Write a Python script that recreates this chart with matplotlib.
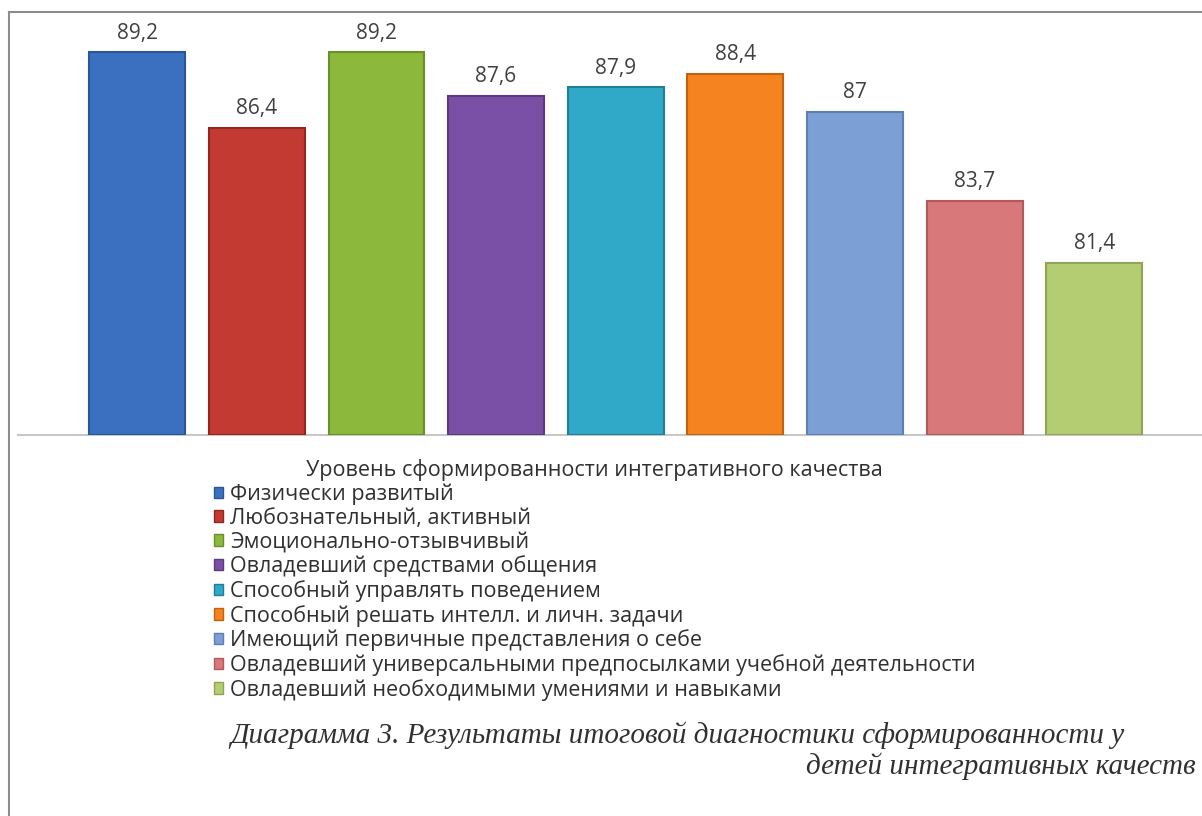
import matplotlib
matplotlib.use("Agg")
import matplotlib.pyplot as plt
from matplotlib.patches import Patch

categories = [
    "Физически развитый",
    "Любознательный, активный",
    "Эмоционально-отзывчивый",
    "Овладевший средствами общения",
    "Способный управлять поведением",
    "Способный решать интелл. и личн. задачи",
    "Имеющий первичные представления о себе",
    "Овладевший универсальными предпосылками учебной деятельности",
    "Овладевший необходимыми умениями и навыками",
]
values = [89.2, 86.4, 89.2, 87.6, 87.9, 88.4, 87.0, 83.7, 81.4]
labels = ["89,2", "86,4", "89,2", "87,6", "87,9", "88,4", "87", "83,7", "81,4"]
colors = ["#3b70c0", "#c23a32", "#8cb83c", "#7a50a6", "#30a8c8",
          "#f5831f", "#7c9fd6", "#d9787a", "#b4cd72"]
edges = ["#2a5597", "#922620", "#6a8f28", "#5a3a80", "#1f7f99",
         "#c0620e", "#5f7fb3", "#b05a5c", "#8ea553"]

legend_title = "Уровень сформированности интегративного качества"
caption1 = "Диаграмма 3. Результаты итоговой диагностики сформированности у"
caption2 = "детей интегративных качеств"

plt.rcParams["font.family"] = ["Open Sans", "DejaVu Sans"]

fig = plt.figure(figsize=(12.02, 8.16), dpi=100)
W, H = 1202, 816

# plot area: baseline at y=435 px, left edge at x=18 px
ax = fig.add_axes([18 / W, 1 - 435 / H, 1 - 18 / W, (435 - 12) / H])
x = list(range(len(values)))
bars = ax.bar(x, [v - 75 for v in values], bottom=75, width=0.8,
              color=colors, edgecolor=edges, linewidth=1.5, zorder=3)
for xi, v, lab in zip(x, values, labels):
    ax.text(xi, v + 0.33, lab, ha="center", va="bottom", fontsize=15,
            color="#404040")
ax.set_xlim(-0.995, 8.9)
ax.set_ylim(75, 90.7)
ax.set_xticks([])
ax.set_yticks([])
for s in ["left", "right", "top"]:
    ax.spines[s].set_visible(False)
ax.spines["bottom"].set_color("#c8c8c8")
ax.spines["bottom"].set_linewidth(1.5)
ax.patch.set_alpha(0)

handles = [Patch(facecolor=c, edgecolor=e, label=n)
           for c, e, n in zip(colors, edges, categories)]
leg = fig.legend(handles=handles, title=legend_title, loc="upper left",
                 bbox_to_anchor=(203 / W, 1 - 448 / H), frameon=False,
                 fontsize=15.5, title_fontsize=15.5, handlelength=0.45,
                 handleheight=0.45, handletextpad=0.3, labelspacing=0.13,
                 borderpad=0)
for t in leg.get_texts():
    t.set_color("#303030")
leg.get_title().set_color("#303030")

fig.text(230 / W, 1 - 735 / H, caption1, ha="left", va="center",
         fontsize=21, style="italic", family="Liberation Serif", color="#303030")
fig.text(1196 / W, 1 - 766 / H, caption2, ha="right", va="center",
         fontsize=21, style="italic", family="Liberation Serif", color="#303030")

# chart border (left and top)
fig.add_artist(plt.Line2D([9 / W, 9 / W], [0, 1 - 12 / H], color="#8c8c8c", lw=1.5))
fig.add_artist(plt.Line2D([9 / W, 1], [1 - 12 / H, 1 - 12 / H], color="#8c8c8c", lw=1.5))

fig.savefig("out.png", dpi=100, facecolor="white")
